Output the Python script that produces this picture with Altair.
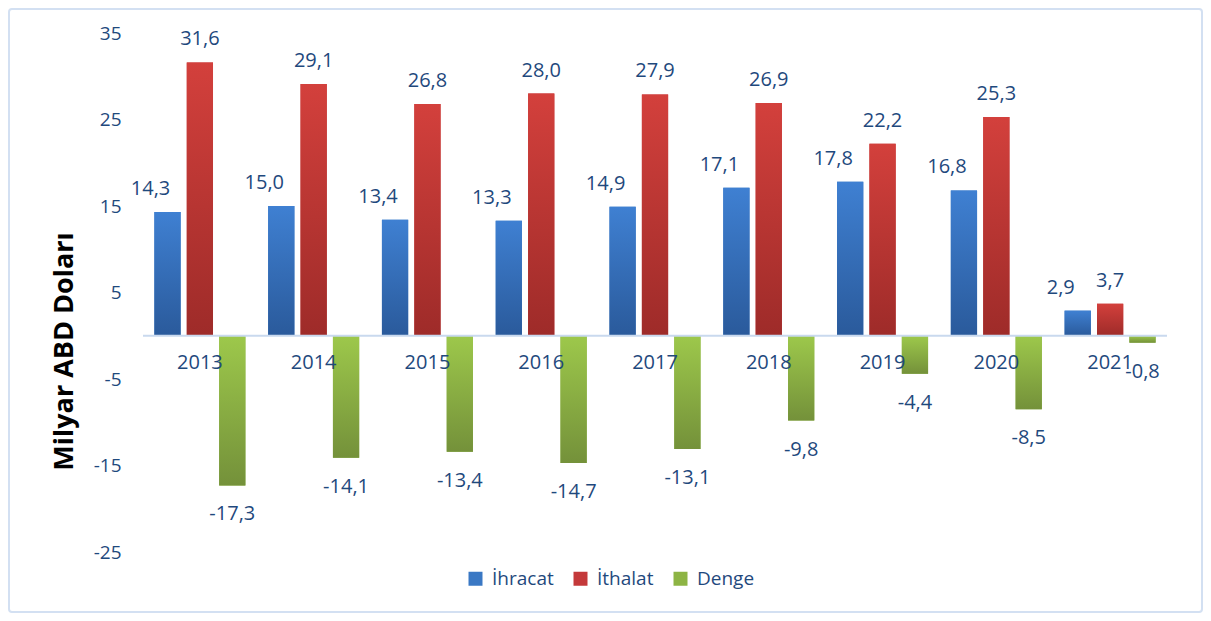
import altair as alt
import pandas as pd

years = ["2013", "2014", "2015", "2016", "2017", "2018", "2019", "2020", "2021"]
series = ["İhracat", "İthalat", "Denge"]
ihracat = [14.3, 15.0, 13.4, 13.3, 14.9, 17.1, 17.8, 16.8, 2.9]
ithalat = [31.6, 29.1, 26.8, 28.0, 27.9, 26.9, 22.2, 25.3, 3.7]
denge = [-17.3, -14.1, -13.4, -14.7, -13.1, -9.8, -4.4, -8.5, -0.8]
y_ticks = [-25, -15, -5, 5, 15, 25, 35]

rows = []
for name, vals in zip(series, [ihracat, ithalat, denge]):
    for yr, v in zip(years, vals):
        rows.append({"Yıl": yr, "Seri": name, "Değer": v})
df = pd.DataFrame(rows)

FONT = "Open Sans"
TXT = "#1F497D"
W, H = 1024, 519

xs = alt.X("Yıl:N", sort=years, axis=None,
           scale=alt.Scale(paddingInner=0.2, paddingOuter=0.1))
xo = alt.XOffset("Seri:N", sort=series,
                 scale=alt.Scale(paddingInner=0.19, paddingOuter=0))
ys = alt.Y("Değer:Q",
           scale=alt.Scale(domain=[-25, 35], nice=False, zero=False),
           axis=alt.Axis(values=y_ticks, grid=False, domain=False, ticks=False,
                         labelExpr="replace(datum.label, '\u2212', '-')",
                         labelFont=FONT, labelFontSize=19, labelColor=TXT,
                         labelPadding=22, title="Milyar ABD Doları",
                         titleFont=FONT, titleFontSize=27,
                         titleFontWeight="bold", titleColor="#000000",
                         titleX=-79, titleY=318, titleAngle=-90,
                         titleAlign="center", titleBaseline="middle"))

base = alt.Chart(df)

legend_bars = base.mark_bar().encode(
    x=xs, xOffset=xo, y=ys,
    color=alt.Color("Seri:N", sort=series,
                    scale=alt.Scale(domain=series,
                                    range=["#3a78c4", "#c4393a", "#8db444"]),
                    legend=alt.Legend(title=None, orient="none", direction="horizontal",
                                      legendX=323, legendY=536,
                                      symbolType="square", symbolSize=196,
                                      symbolStrokeWidth=0,
                                      labelFont=FONT, labelFontSize=19,
                                      labelColor=TXT, labelOffset=7,
                                      columnPadding=17)),
)

grads = {
    "İhracat": ("#3f80d2", "#2a5a9b"),
    "İthalat": ("#d3403c", "#9e2b29"),
    "Denge": ("#9dc84b", "#74913a"),
}
grad_layers = []
for s in series:
    top, bot = grads[s]
    g = alt.Gradient(gradient="linear",
                     stops=[alt.GradientStop(color=top, offset=0),
                            alt.GradientStop(color=bot, offset=1)],
                     x1=0, x2=0, y1=0, y2=1)
    grad_layers.append(
        base.transform_filter(alt.datum["Seri"] == s)
        .mark_bar(fill=g)
        .encode(x=xs, xOffset=xo, y=ys)
    )

zero_rule = alt.Chart(alt.Data(values=[{}])).mark_rule(
    color="#c9d9ee", strokeWidth=2).encode(y=alt.datum(0))

label_expr = "replace(replace(format(datum['Değer'], '.1f'), '.', ','), '\u2212', '-')"
txt_layers = []
for s, dx, dy in [("İhracat", -17, -23), ("İthalat", 0, -23), ("Denge", 0, 29)]:
    txt_layers.append(
        base.transform_filter(alt.datum["Seri"] == s)
        .transform_calculate(lab=label_expr)
        .mark_text(font=FONT, fontSize=20, color=TXT, dx=dx, dy=dy,
                   baseline="middle", align="center")
        .encode(x=xs, xOffset=xo, y=ys, text="lab:N")
    )

year_df = pd.DataFrame({"Yıl": years})
year_labels = alt.Chart(year_df).mark_text(
    font=FONT, fontSize=20, color=TXT, dy=27, baseline="middle", align="center"
).encode(x=xs, y=alt.datum(0), text="Yıl:N")

frame = alt.Chart(alt.Data(values=[{}])).mark_rect(
    fillOpacity=0, stroke="#d3e0f2", strokeWidth=2, cornerRadius=3
).encode(x=alt.value(-134), x2=alt.value(1059), y=alt.value(-24), y2=alt.value(579))

chart = alt.layer(
    frame, legend_bars, *grad_layers, zero_rule, *txt_layers, year_labels
).properties(
    width=W, height=H,
    autosize=alt.AutoSizeParams(type="none"),
    padding={"left": 135, "top": 25, "right": 36, "bottom": 61},
).configure_view(strokeWidth=0)

chart.save("out.html", embed_options={"renderer": "svg", "actions": False})
